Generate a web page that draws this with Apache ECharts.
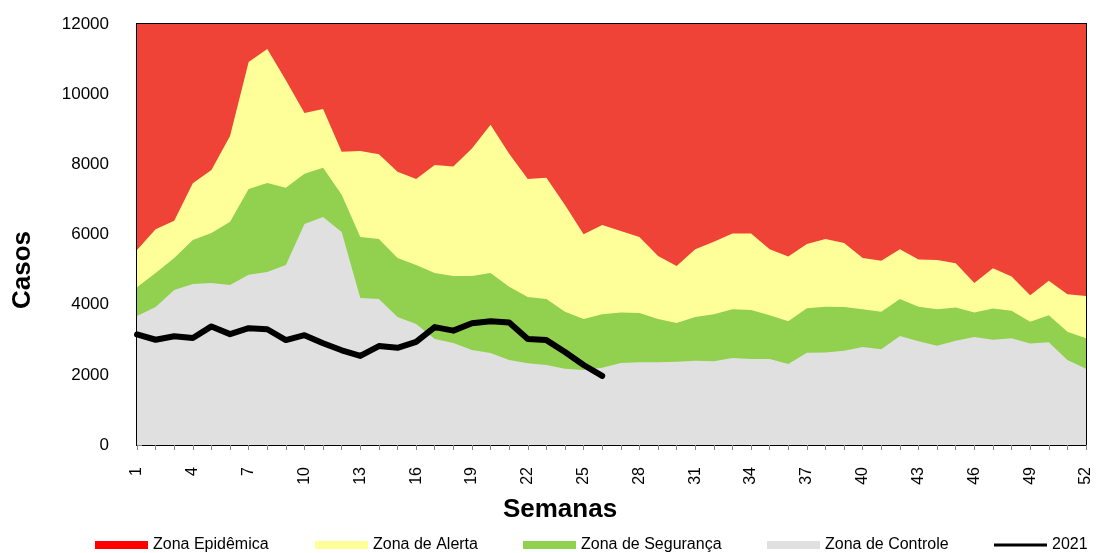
<!DOCTYPE html>
<html>
<head>
<meta charset="utf-8">
<script src="https://cdn.jsdelivr.net/npm/echarts@6/dist/echarts.min.js"></script>
<style>
html,body{margin:0;padding:0;background:#fff;}
#chart{width:1096px;height:553px;}
</style>
</head>
<body>
<div id="chart"></div>
<script>
// semanas epidemiologicas
var semanas = [];
for (var i = 1; i <= 52; i++) semanas.push(String(i));

// limites do diagrama de controle (topo de cada zona)
var limiteControle = [3680,3930,4420,4590,4620,4560,4850,4930,5130,6300,6500,6070,4190,4160,3650,3450,3020,2910,2710,2620,
  2420,2330,2280,2170,2140,2200,2340,2360,2360,2370,2400,2390,2480,2450,2450,2310,2630,2640,2690,2790,
  2730,3110,2960,2830,2970,3080,3000,3040,2890,2930,2420,2170];
var limiteSeguranca = [4500,4900,5330,5840,6040,6360,7300,7470,7330,7730,7900,7130,5930,5870,5330,5130,4900,4820,4820,4900,
  4510,4220,4160,3800,3590,3730,3780,3760,3590,3480,3650,3730,3870,3850,3700,3530,3900,3940,3930,3870,
  3800,4160,3940,3870,3920,3780,3890,3830,3510,3700,3230,3040];
var limiteAlerta = [5560,6150,6390,7460,7840,8810,10920,11290,10400,9460,9580,8360,8380,8290,7790,7580,7980,7940,8450,9130,
  8300,7580,7620,6840,6010,6270,6100,5930,5390,5100,5580,5790,6030,6030,5580,5370,5730,5870,5760,5330,
  5250,5580,5290,5270,5180,4620,5040,4800,4270,4680,4300,4250];
var topoEpidemica = [];
for (var i = 0; i < 52; i++) topoEpidemica.push(12000);

// casos 2021 (semanas 1 a 26)
var casos2021 = [3150,3000,3100,3050,3380,3160,3330,3300,2990,3130,2900,2700,2540,2820,2770,2940,3360,3260,3470,3530,
  3490,3020,2990,2650,2280,1970];

var myChart = echarts.init(document.getElementById('chart'));

function zona(nome, dados, cor){
  return {
    name: nome, type: 'line', data: dados, symbol: 'none',
    lineStyle: {width: 0}, areaStyle: {color: cor, opacity: 1},
    itemStyle: {color: cor}, silent: true
  };
}

var arial = '"Liberation Sans",Arial,sans-serif';
var fonteLeg = {fontFamily: arial, fontSize: 16, color: '#000'};
function leg(nome, x, extra){
  return {
    data: [extra ? Object.assign({name: nome}, extra) : nome],
    left: x, top: 537, padding: 0, itemWidth: 53, itemHeight: 8,
    icon: 'rect', textStyle: fonteLeg, selectedMode: false
  };
}

myChart.setOption({
  animation: false,
  grid: {left: 137, right: 10, top: 24, bottom: 108, show: true, borderColor: '#000', borderWidth: 2, backgroundColor: 'transparent'},
  legend: [
    leg('Zona Epidêmica', 95, {itemStyle: {color: '#FF0000'}}),
    leg('Zona de Alerta', 315),
    leg('Zona de Segurança', 523),
    leg('Zona de Controle', 767),
    {data: ['2021'], left: 994, top: 537, padding: 0, itemWidth: 53, itemHeight: 3, icon: 'rect', textStyle: fonteLeg, selectedMode: false}
  ],
  xAxis: {
    type: 'category', data: semanas, boundaryGap: false,
    axisLine: {lineStyle: {color: '#000', width: 2}},
    axisTick: {interval: 0, length: 5, lineStyle: {color: '#888'}},
    axisLabel: {interval: 2, rotate: 90, margin: 22, fontFamily: arial, fontSize: 16, color: '#000'}
  },
  yAxis: {
    type: 'value', min: 0, max: 12000, interval: 2000,
    axisLine: {show: true, lineStyle: {color: '#000', width: 2}},
    axisTick: {show: true, inside: true, length: 5, lineStyle: {color: '#888'}},
    splitLine: {show: false},
    axisLabel: {margin: 28, fontFamily: arial, fontSize: 17, color: '#000', formatter: function(v){ return String(v); }}
  },
  graphic: [
    {type: 'text', x: 23, y: 270, rotation: Math.PI / 2, style: {text: 'Casos', font: 'bold 26px ' + arial, fill: '#000', textAlign: 'center', textVerticalAlign: 'middle'}},
    {type: 'text', x: 560, y: 510, style: {text: 'Semanas', font: 'bold 26px ' + arial, fill: '#000', textAlign: 'center', textVerticalAlign: 'middle'}},
    {type: 'text', left: 862, top: 48, style: {text: '2021 (Jan-Jun):', font: 'bold 19px Lato, "Open Sans", sans-serif', fill: '#000'}},
    {type: 'text', left: 874, top: 77, style: {text: '77.644 casos', font: '19px Lato, "Open Sans", sans-serif', fill: '#000'}},
    {type: 'text', left: 475, top: 380, style: {text: 'Junho', font: 'bold 19px Lato, "Open Sans", sans-serif', fill: '#000'}},
    {type: 'text', left: 443, top: 408, style: {text: '12.791 casos', font: '19px Lato, "Open Sans", sans-serif', fill: '#000'}}
  ],
  series: [
    zona('Zona Epidêmica', topoEpidemica, '#EF4338'),
    zona('Zona de Alerta', limiteAlerta, '#FFFF99'),
    zona('Zona de Segurança', limiteSeguranca, '#92D050'),
    zona('Zona de Controle', limiteControle, '#E0E0E0'),
    {
      name: '2021', type: 'line', data: casos2021, symbol: 'none', z: 5,
      lineStyle: {color: '#000', width: 6, join: 'round', cap: 'round'},
      itemStyle: {color: '#000'}
    }
  ]
});
</script>
</body>
</html>
